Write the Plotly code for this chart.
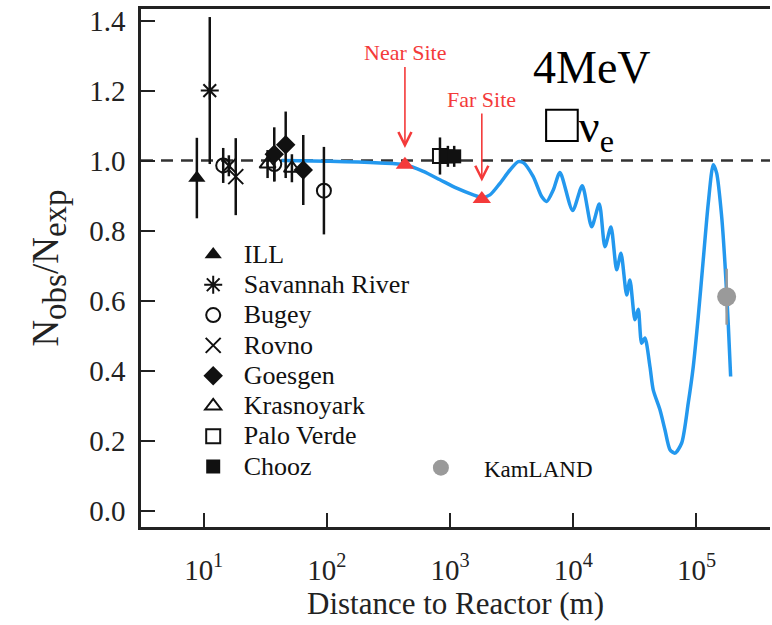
import math
import plotly.graph_objects as go

# ---------------- data ----------------
ill_x = [8.8]
ill_y = [0.95]
ill_e = [0.115]

sr_x = [11.2]
sr_y = [1.20]
sr_e = [0.21]

bugey_x = [14.4, 37.4, 94.6]
bugey_y = [0.986, 0.99, 0.914]
bugey_e = [0.05, 0.05, 0.125]

rovno_x = [16.0, 18.2]
rovno_y = [0.985, 0.954]
rovno_e = [0.03, 0.11]

goesgen_x = [37.4, 46.3, 64.3]
goesgen_y = [1.018, 1.045, 0.973]
goesgen_e = [0.077, 0.095, 0.10]

kras_x = [33.0, 52.0]
kras_y = [0.99, 0.978]
kras_e = [0.04, 0.04]

palo_x = [828]
palo_y = [1.013]
palo_e = [0.053]

chooz_x = [960, 1080]
chooz_y = [1.012, 1.012]
chooz_e = [0.03, 0.03]

kam_x = [175800]
kam_y = [0.611]
kam_e = [0.08]

site_names = ["Near Site", "Far Site"]
site_x = [430, 1810]
site_y = [0.988, 0.89]
site_arrow_tip = [1.036, 0.94]

curve_x = [43, 106, 270, 431, 606, 828, 1131, 1543, 1805, 2108,
           2541, 3064, 3578, 3928, 4733, 5539, 6085, 6882, 7798, 9886,
           11830, 14100, 16260, 18080, 20230, 22500, 24380, 27130, 28840, 31680,
           33700, 35890, 38190, 41940, 44570, 50550, 55470, 60950, 66930, 75860,
           85780, 94190, 103400, 113500, 124700, 136900, 145900, 160200, 170300, 181100,
           189500]
curve_y = [1.0, 0.998, 0.993, 0.988, 0.969, 0.945, 0.921, 0.902, 0.895, 0.902,
           0.935, 0.973, 0.997, 0.994, 0.954, 0.897, 0.883, 0.916, 0.966, 0.857,
           0.928, 0.811, 0.876, 0.754, 0.810, 0.688, 0.735, 0.616, 0.659, 0.545,
           0.575, 0.478, 0.493, 0.411, 0.345, 0.288, 0.231, 0.174, 0.164, 0.193,
           0.307, 0.411, 0.554, 0.716, 0.878, 0.988, 0.964, 0.840, 0.707, 0.535,
           0.383]

x_tick_vals = [10, 100, 1000, 10000, 100000]
x_tick_text = ["10<sup>1</sup>", "10<sup>2</sup>", "10<sup>3</sup>", "10<sup>4</sup>", "10<sup>5</sup>"]

# ---------------- figure ----------------
SERIF = "Liberation Serif"
BLACK = "#111111"
RED = "#f43a3a"
BLUE = "#2398ee"

fig = go.Figure()

# oscillation curve
fig.add_trace(go.Scatter(x=curve_x, y=curve_y, mode="lines",
                         line=dict(color=BLUE, width=3.5, shape="spline", smoothing=0.7),
                         showlegend=False, hoverinfo="skip"))


def exp_trace(name, xs, ys, es, symbol, size, lw=0):
    return go.Scatter(
        x=xs, y=ys, mode="markers",
        name="\u00a0\u00a0<span style='font-size:26px'>" + name + "</span>",
        marker=dict(symbol=symbol, size=size, color=BLACK,
                    line=dict(color=BLACK, width=lw)),
        error_y=dict(type="data", array=es, visible=True, color=BLACK,
                     thickness=2.5, width=0),
        legend="legend")


fig.add_trace(exp_trace("ILL", ill_x, ill_y, ill_e, "triangle-up", 15))
fig.add_trace(exp_trace("Savannah River", sr_x, sr_y, sr_e, "asterisk-open", 15, 2))
fig.add_trace(exp_trace("Bugey", bugey_x, bugey_y, bugey_e, "circle-open", 14, 2))
fig.add_trace(exp_trace("Rovno", rovno_x, rovno_y, rovno_e, "x-thin-open", 15, 2))
fig.add_trace(exp_trace("Goesgen", goesgen_x, goesgen_y, goesgen_e, "diamond", 15))
fig.add_trace(exp_trace("Krasnoyark", kras_x, kras_y, kras_e, "triangle-up-open", 14, 2))
fig.add_trace(exp_trace("Palo Verde", palo_x, palo_y, palo_e, "square-open", 14, 2))
fig.add_trace(exp_trace("Chooz", chooz_x, chooz_y, chooz_e, "square", 14))

# KamLAND
fig.add_trace(go.Scatter(
    x=kam_x, y=kam_y, mode="markers", name="\u00a0\u00a0\u00a0\u00a0KamLAND",
    marker=dict(symbol="circle", size=19, color="#9a9a9a"),
    error_y=dict(type="data", array=kam_e, visible=True, color="#9a9a9a",
                 thickness=2.5, width=0),
    legend="legend2"))

# near / far sites
fig.add_trace(go.Scatter(x=site_x, y=site_y, mode="markers",
                         marker=dict(symbol="triangle-up", size=16, color=RED),
                         showlegend=False, hoverinfo="skip"))

annotations = []
for name, sx, tip, dy in zip(site_names, site_x, site_arrow_tip, [-95, -82]):
    annotations.append(dict(
        x=math.log10(sx), y=tip, xref="x", yref="y", text=name,
        showarrow=True, ax=0, ay=dy, arrowhead=5, arrowsize=1.6, arrowwidth=1.6,
        arrowcolor=RED, font=dict(family=SERIF, size=22, color=RED)))

annotations.append(dict(x=592, y=67, xref="paper", yref="paper", text="4MeV"))
annotations.append(dict(x=579, y=125, xref="paper", yref="paper",
                        text="<span style='font-size:56px'>□</span>ν<sub>e</sub>"))

# convert the two text annotations from pixel to paper coordinates
L, R, T, B = 141, 2, 9, 98
W, H = 772, 625
pw, ph = W - L - R, H - T - B
for a in annotations[-2:]:
    a["x"] = (a["x"] - L) / pw
    a["y"] = (H - B - a["y"]) / ph
    a["showarrow"] = False
    a["font"] = dict(family=SERIF, size=46, color="#000000")
    a["xanchor"] = "center"
    a["yanchor"] = "middle"

fig.update_layout(
    width=W, height=H,
    margin=dict(l=L, r=R, t=T, b=B),
    paper_bgcolor="white", plot_bgcolor="white",
    font=dict(family=SERIF, size=28, color="#222222"),
    annotations=annotations,
    shapes=[dict(type="line", xref="paper", yref="y", x0=0, x1=1, y0=1.0, y1=1.0,
                 line=dict(color="#333333", width=2.5, dash="12px,8px"), layer="below")],
    legend=dict(x=0.083, y=0.565, xanchor="left", yanchor="top",
                bgcolor="rgba(0,0,0,0)", font=dict(family=SERIF, size=21, color="#111"),
                tracegroupgap=0, itemsizing="trace"),
    legend2=dict(x=0.445, y=0.156, xanchor="left", yanchor="top",
                 bgcolor="rgba(0,0,0,0)", font=dict(family=SERIF, size=23, color="#111")),
    xaxis=dict(type="log", range=[0.491, 5.597], tickvals=x_tick_vals, ticktext=x_tick_text,
               ticks="inside", ticklen=14, tickwidth=2, tickcolor="#222",
               showline=True, linewidth=2.5, linecolor="#222", mirror=True,
               showgrid=False, zeroline=False, ticklabelstandoff=15,
               tickfont=dict(family=SERIF, size=29, color="#222"),
               title=dict(text="Distance to Reactor (m)", standoff=8,
                          font=dict(family=SERIF, size=31, color="#222"))),
    yaxis=dict(range=[-0.047, 1.433], dtick=0.2, tick0=0, tickformat=".1f",
               ticks="inside", ticklen=14, tickwidth=2, tickcolor="#222",
               showline=True, linewidth=2.5, linecolor="#222", mirror=False,
               showgrid=False, zeroline=False, ticklabelstandoff=7,
               tickfont=dict(family=SERIF, size=29, color="#222"),
               title=dict(text="N<sub><span style='font-size:33px'>obs</span></sub>/N<sub><span style='font-size:33px'>exp</span></sub>",
                          standoff=20, font=dict(family=SERIF, size=37, color="#222"))),
)

fig.write_html("out.html")
